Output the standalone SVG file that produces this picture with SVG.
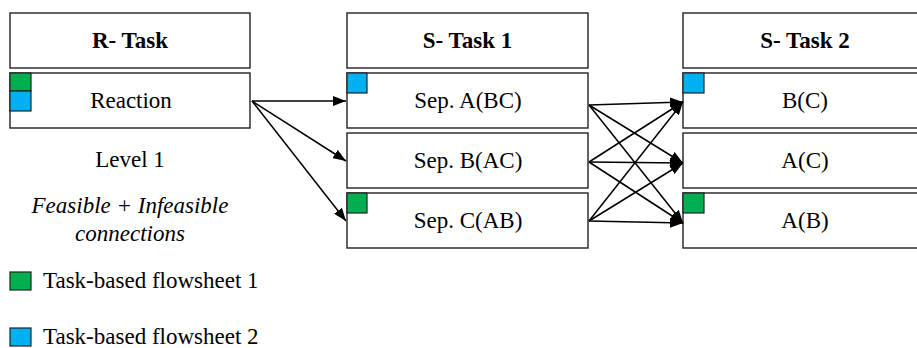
<svg xmlns="http://www.w3.org/2000/svg" width="917" height="348" viewBox="0 0 917 348">
  <style>
    .box { fill: #ffffff; stroke: #222222; stroke-width: 1.4; }
    .hdr { font-family: "Liberation Serif", "Times New Roman", serif; font-size: 23px; font-weight: bold; text-anchor: middle; fill: #000; }
    .lbl { font-family: "Liberation Serif", "Times New Roman", serif; font-size: 23px; text-anchor: middle; fill: #000; }
    .note { font-family: "Liberation Serif", "Times New Roman", serif; font-size: 23px; font-style: italic; text-anchor: middle; fill: #000; }
    .leg { font-family: "Liberation Serif", "Times New Roman", serif; font-size: 23px; fill: #000; }
    .green { fill: #00b050; stroke: #222222; stroke-width: 1.2; }
    .blue { fill: #00b0f0; stroke: #222222; stroke-width: 1.2; }
    .edge { fill: none; stroke: #000; stroke-width: 1.5; marker-end: url(#arrow); }
  </style>
  <defs>
    <marker id="arrow" markerUnits="userSpaceOnUse" markerWidth="14" markerHeight="10" refX="13" refY="5" orient="auto">
      <path d="M0,0 L13,5 L0,10 Z" fill="#000"/>
    </marker>
  </defs>

  <!-- column headers -->
  <g id="r-task">
    <rect class="box" x="10" y="13" width="240" height="55"/>
    <text class="hdr" x="130" y="48">R- Task</text>
  </g>
  <g id="s-task-1">
    <rect class="box" x="347" y="13" width="241" height="55"/>
    <text class="hdr" x="467.5" y="48">S- Task 1</text>
  </g>
  <g id="s-task-2">
    <rect class="box" x="683" y="13" width="241" height="55"/>
    <text class="hdr" x="805" y="48">S- Task 2</text>
  </g>

  <!-- R-Task column -->
  <g id="reaction">
    <rect class="box" x="10" y="73" width="240" height="55"/>
    <rect class="green" x="10" y="73" width="21" height="18"/>
    <rect class="blue" x="10" y="91" width="21" height="20"/>
    <text class="lbl" x="131" y="108">Reaction</text>
  </g>

  <!-- S-Task 1 column -->
  <g id="sep-a-bc">
    <rect class="box" x="347" y="73" width="241" height="55"/>
    <rect class="blue" x="347" y="73" width="20" height="20"/>
    <text class="lbl" x="468" y="108">Sep. A(BC)</text>
  </g>
  <g id="sep-b-ac">
    <rect class="box" x="347" y="133" width="241" height="55"/>
    <text class="lbl" x="468" y="168">Sep. B(AC)</text>
  </g>
  <g id="sep-c-ab">
    <rect class="box" x="347" y="193" width="241" height="55"/>
    <rect class="green" x="347" y="193" width="20" height="20"/>
    <text class="lbl" x="468" y="228">Sep. C(AB)</text>
  </g>

  <!-- S-Task 2 column -->
  <g id="b-c">
    <rect class="box" x="683" y="73" width="241" height="55"/>
    <rect class="blue" x="683" y="73" width="21" height="20"/>
    <text class="lbl" x="805" y="108">B(C)</text>
  </g>
  <g id="a-c">
    <rect class="box" x="683" y="133" width="241" height="55"/>
    <text class="lbl" x="805" y="168">A(C)</text>
  </g>
  <g id="a-b">
    <rect class="box" x="683" y="193" width="241" height="55"/>
    <rect class="green" x="683" y="193" width="21" height="20"/>
    <text class="lbl" x="805" y="228">A(B)</text>
  </g>

  <!-- connections -->
  <g id="connectors">
    <line class="edge" x1="252" y1="101" x2="346" y2="101"/>
    <line class="edge" x1="252" y1="101" x2="346" y2="161"/>
    <line class="edge" x1="252" y1="101" x2="346" y2="221"/>

    <line class="edge" x1="589" y1="105" x2="683" y2="102"/>
    <line class="edge" x1="589" y1="105" x2="683" y2="163"/>
    <line class="edge" x1="589" y1="105" x2="683" y2="223"/>

    <line class="edge" x1="589" y1="162" x2="683" y2="102"/>
    <line class="edge" x1="589" y1="162" x2="683" y2="163"/>
    <line class="edge" x1="589" y1="162" x2="683" y2="223"/>

    <line class="edge" x1="589" y1="221" x2="683" y2="102"/>
    <line class="edge" x1="589" y1="221" x2="683" y2="163"/>
    <line class="edge" x1="589" y1="221" x2="683" y2="223"/>
  </g>

  <!-- annotations -->
  <g id="notes">
    <text class="lbl" x="130" y="167">Level 1</text>
    <text class="note" x="130" y="213">Feasible + Infeasible</text>
    <text class="note" x="130" y="241">connections</text>
  </g>

  <!-- legend -->
  <g id="legend">
    <rect class="green" x="10" y="272" width="21" height="18"/>
    <text class="leg" x="43" y="288">Task-based flowsheet 1</text>
    <rect class="blue" x="10" y="328" width="21" height="18"/>
    <text class="leg" x="43" y="344">Task-based flowsheet 2</text>
  </g>
</svg>
